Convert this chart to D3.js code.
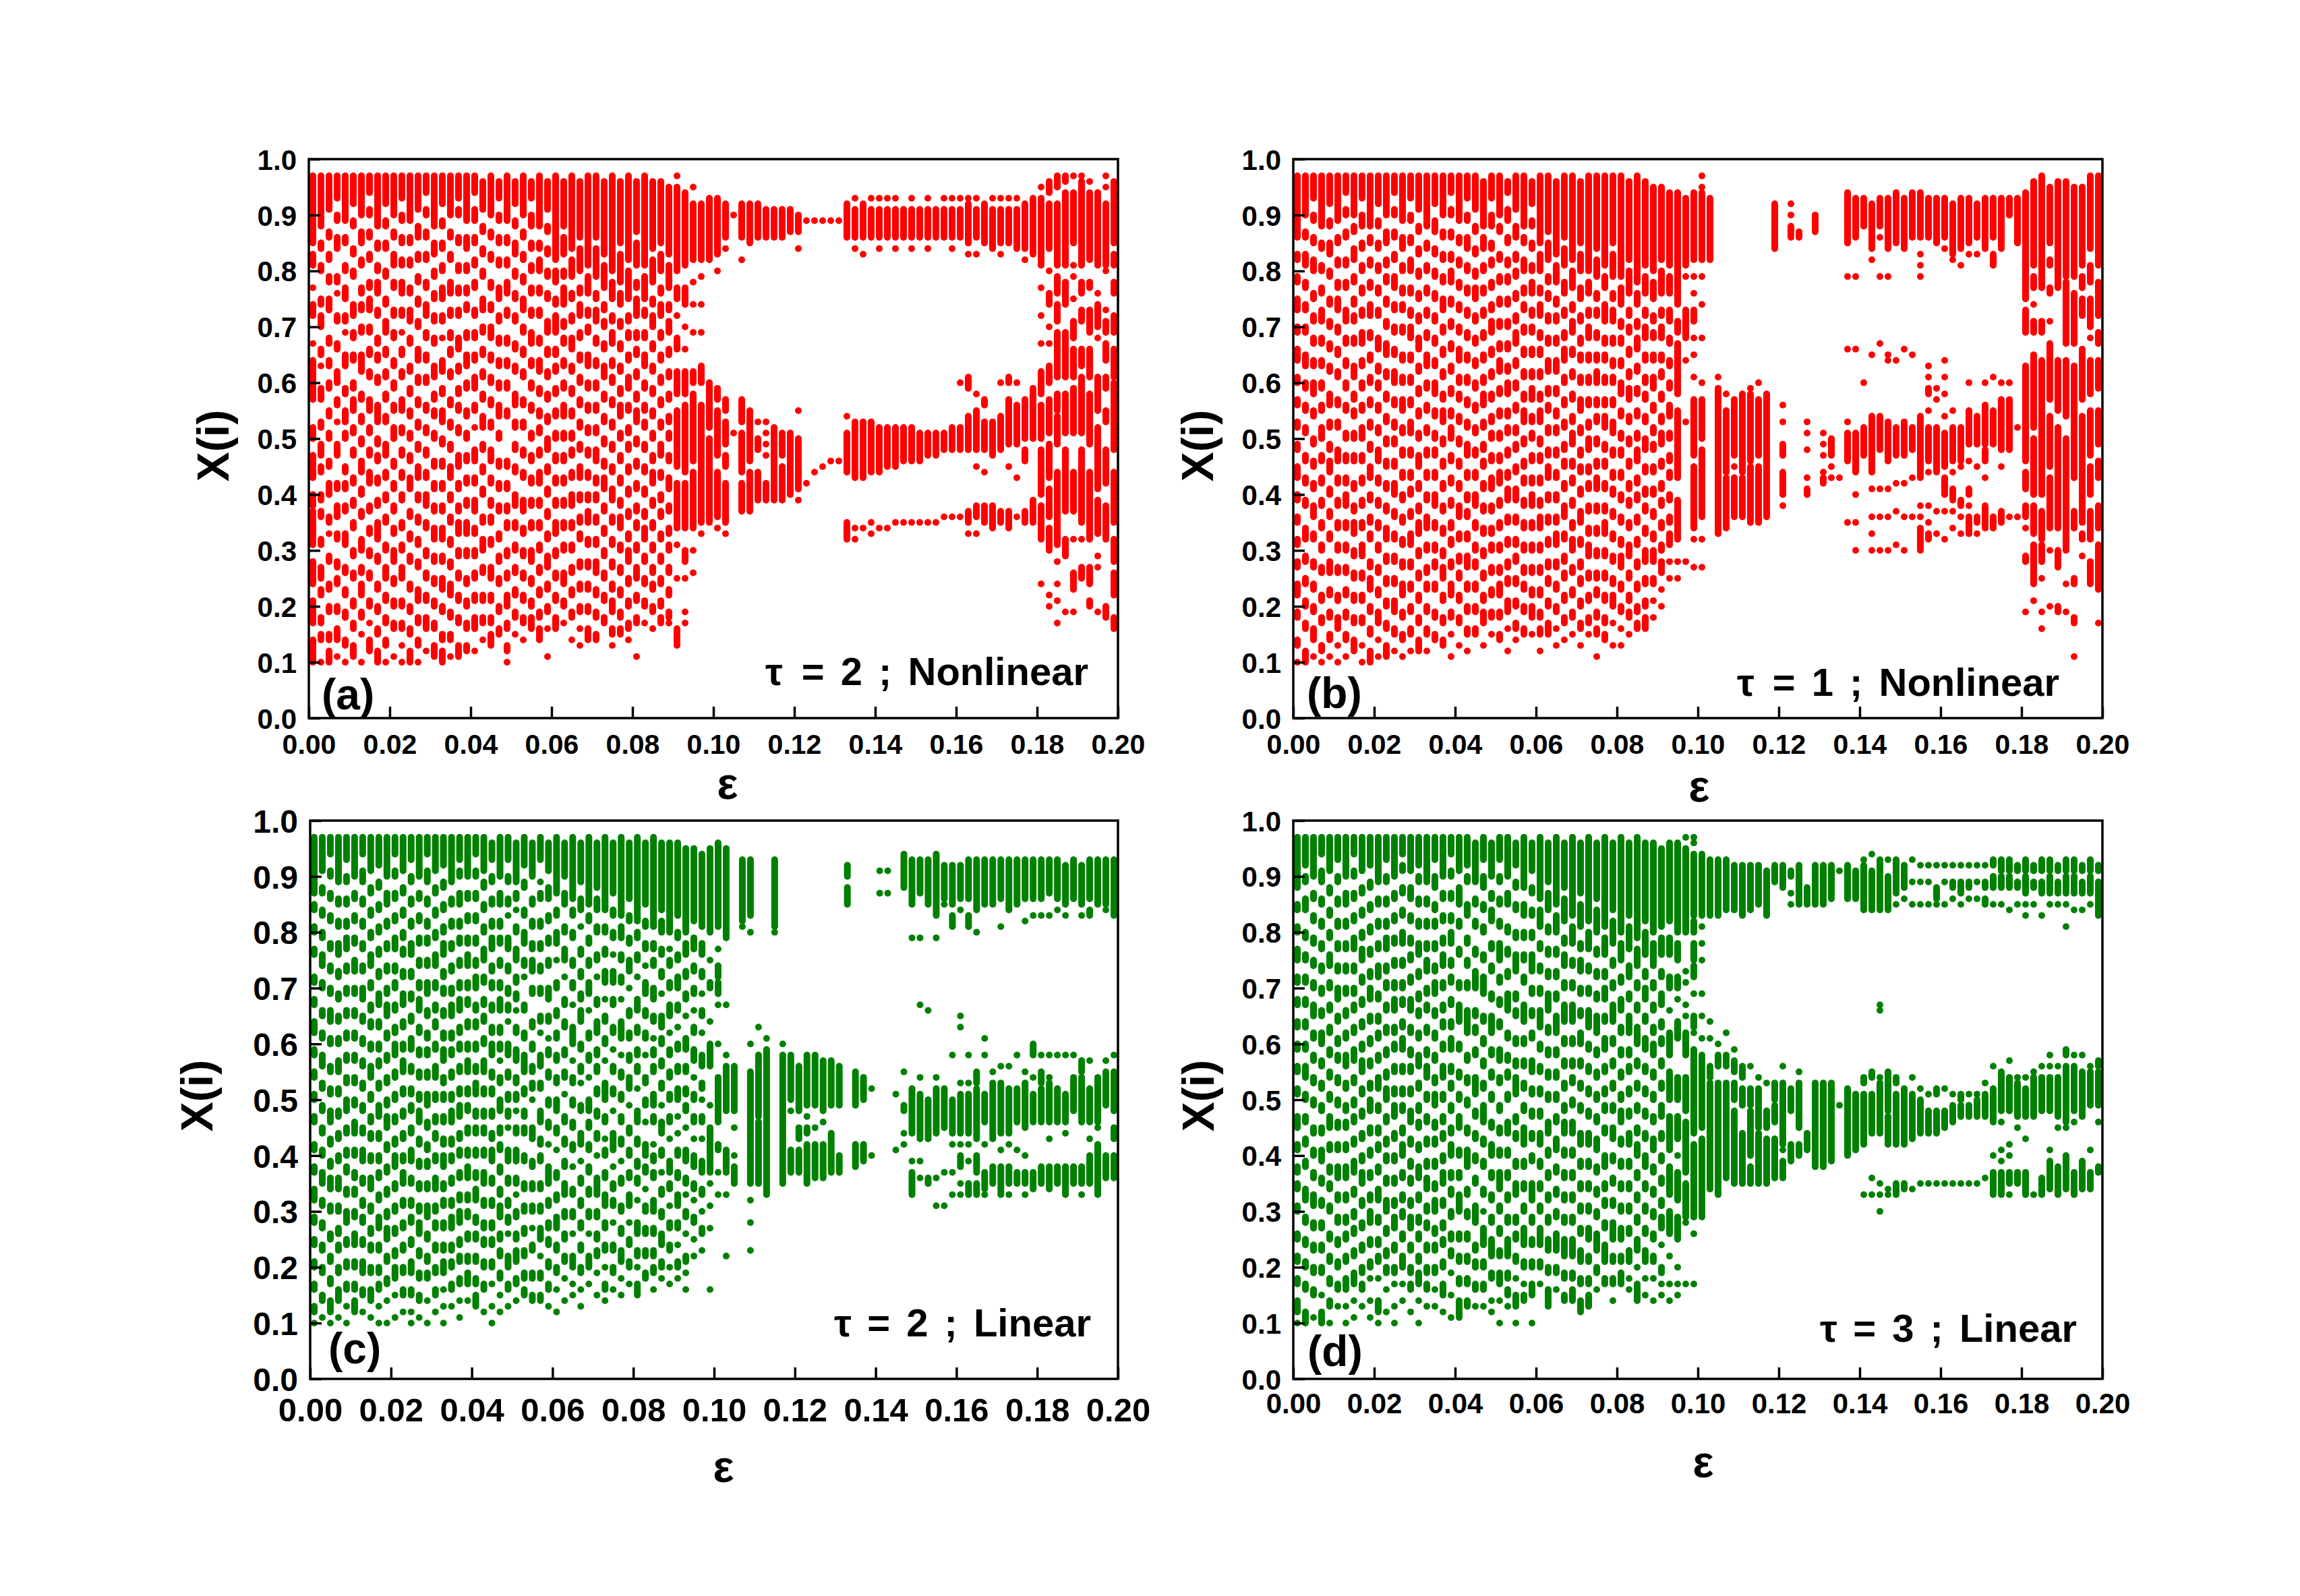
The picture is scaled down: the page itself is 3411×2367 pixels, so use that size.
<!DOCTYPE html>
<html><head><meta charset="utf-8">
<script src="https://cdn.jsdelivr.net/npm/d3@7"></script>
<style>html,body{margin:0;padding:0;background:#fff;}svg{display:block;}</style>
</head><body>
<svg id="chart" width="3411" height="2367"></svg>
<script>
// coupling strength grid (one column of iterates per value)
const eps = [0.001,0.003,0.005,0.007,0.009,0.011,0.013,0.015,0.017,0.019,0.021,0.023,0.025,0.027,0.029,0.031,0.033,0.035,0.037,0.039,
0.041,0.043,0.045,0.047,0.049,0.051,0.053,0.055,0.057,0.059,0.061,0.063,0.065,0.067,0.069,0.071,0.073,0.075,0.077,0.079,
0.081,0.083,0.085,0.087,0.089,0.091,0.093,0.095,0.097,0.099,0.101,0.103,0.105,0.107,0.109,0.111,0.113,0.115,0.117,0.119,
0.121,0.123,0.125,0.127,0.129,0.131,0.133,0.135,0.137,0.139,0.141,0.143,0.145,0.147,0.149,0.151,0.153,0.155,0.157,0.159,
0.161,0.163,0.165,0.167,0.169,0.171,0.173,0.175,0.177,0.179,0.181,0.183,0.185,0.187,0.189,0.191,0.193,0.195,0.197,0.199];
const xTickValues = [0,0.02,0.04,0.06,0.08,0.10,0.12,0.14,0.16,0.18,0.20];
const yTickValues = [0,0.1,0.2,0.3,0.4,0.5,0.6,0.7,0.8,0.9,1.0];
const panelTags = ["(a)","(b)","(c)","(d)"];
const tauParts = [["τ"," = 2 ; Nonlinear"],["τ"," = 1 ; Nonlinear"],["τ"," = 2 ; Linear"],["τ"," = 3 ; Linear"]];
const xTitle = "ε", yTitle = "X(i)";
// X(i) values x100 per column: a number is one point, [hi,lo] is a contiguous stack of points
const colsA = [
[[97,85],[83,81],77,[74,72],67,[64,57],[52,50],[47,43],[40,38],[37,31],[28,24],[21,17],[14,10]],
[[97,88],[85,84],[81,80],[75,74],[72,70],[66,65],63,[59,57],[53,52],[49,47],[45,44],[40,39],[37,36],[32,31],[27,25],[23,22],[18,17],[15,14],10],
[[97,91],[87,86],[83,82],[79,78],[75,73],[68,67],[64,63],[60,59],[55,54],[51,50],[46,45],[42,40],[36,35],33,[29,28],[24,23],[20,19],[15,14],[12,10]],
[[97,93],[90,89],[86,84],[79,78],76,[72,71],[67,66],[62,60],[57,56],53,[49,47],[42,41],[38,36],[33,32],[28,27],[25,24],[20,19],[16,14],11],
[[97,89],[86,85],[81,80],[77,75],[72,71],69,[65,63],[59,58],[55,53],[51,50],[45,44],[42,41],[38,37],[33,31],[27,26],[23,22],[19,18],[14,13],10],
[[97,92],[89,88],[84,83],[80,79],[74,72],[69,68],[65,64],[60,59],[57,55],[52,51],[48,47],[43,42],[39,38],[35,34],[30,29],[26,25],[21,20],[17,16],[13,11]],
[[97,90],[87,85],[82,81],[77,76],[74,73],[70,69],[65,62],[58,57],[54,53],[50,49],[46,44],[41,40],[37,36],[32,30],[27,26],[24,22],[19,18],15,10],
[[97,94],[91,90],[87,86],[83,82],[78,77],[75,73],[70,69],[66,65],[62,61],[57,55],[52,51],[48,47],[44,42],[38,37],[34,33],[30,29],[26,25],[21,20],17,[14,12]],
[[97,88],[85,84],[81,80],[78,76],[73,72],[68,67],[65,64],[61,60],[56,53],[50,49],[47,46],[43,42],[39,38],[35,32],[29,28],[24,23],[20,19],[16,15],[12,10]],
[[97,92],[89,88],[85,84],[80,79],[75,74],[71,69],[66,65],[62,61],[58,57],[54,53],[49,47],[44,43],[40,39],[36,35],[31,30],[27,25],[22,21],[18,17],[14,13],10],
[[97,90],[87,86],[83,81],[78,77],[73,72],[69,68],[64,63],[60,59],[56,55],[52,50],[46,45],[42,41],[38,37],[34,33],[30,28],[25,24],[21,20],[17,16],11],
[[97,93],[90,89],[86,85],[82,81],[78,76],[73,72],69,[66,65],[62,61],[57,55],[52,51],[48,47],[44,43],[40,39],[35,34],[31,30],[27,25],[21,20],[17,16],13,10],
[[97,89],[86,85],[82,81],[77,76],[73,71],[68,67],[63,62],[59,58],[55,54],[51,50],[47,46],[43,41],[37,36],[33,32],[29,28],[24,23],[20,19],[16,15],[12,10]],
[[97,91],[88,86],[83,82],[79,78],[75,74],[71,70],[66,64],[61,60],[57,56],[53,52],[49,48],[45,43],[40,39],[36,35],[32,31],[28,27],[23,21],[18,17],[14,13],10],
[[97,94],[91,90],[87,86],[83,82],[78,77],[74,72],[69,68],[65,64],[61,60],[56,55],[52,51],[48,47],[44,43],[40,38],[35,34],[30,29],[26,25],[22,21],[18,16],12],
[[97,88],[85,83],[80,79],[76,75],[72,71],[68,67],[63,61],[58,57],[55,54],[51,50],[46,45],[42,41],[38,37],[34,32],[29,28],[25,24],[21,20],[17,16],[13,11]],
[[97,92],[89,88],[85,84],[81,80],[77,75],[72,71],68,[64,62],[59,58],[55,53],[50,49],[46,45],[42,41],[38,37],[34,32],[29,28],[25,23],[20,19],[15,14],[12,10]],
[[97,90],[87,86],[83,82],[78,76],[73,72],[69,68],[66,65],[62,61],[57,56],[53,52],[49,48],[45,43],[40,39],[36,35],[32,31],[28,27],[24,22],[19,18],[15,14],11],
[[97,93],[91,90],[86,85],[81,80],[77,76],[73,72],[68,66],[63,62],[59,58],[56,55],[52,51],[47,45],[42,41],[38,37],[35,33],[30,29],[26,25],[22,21],[18,17],[13,11]],
[[97,89],[86,84],[81,80],[77,76],[74,73],[69,68],[65,63],[60,59],[55,54],[51,50],[47,46],[43,42],[39,38],[35,33],[30,29],[25,24],[21,20],[17,16],[13,12]],
[[97,94],[91,89],[86,85],[82,81],[78,77],[73,72],[69,68],[65,64],[61,59],[56,55],52,[48,46],[43,42],[39,37],[34,33],[30,29],[26,25],[22,21],[18,16],12],
[[96,91],[88,87],[84,83],[80,79],[75,73],[70,69],[66,65],[62,61],[58,57],[54,52],[49,48],[45,44],[41,40],[36,35],[32,30],[27,26],[22,21],[18,17],14],
[[97,90],[87,86],[83,82],[78,77],[74,73],[70,68],[65,64],[61,60],[57,56],[53,52],[48,46],[43,42],[39,38],[36,35],[32,31],[27,25],[22,21],[18,17],[15,13]],
[[96,93],[90,89],[86,85],[82,81],[77,75],[72,71],[68,67],[64,63],[60,59],[56,54],[51,50],[46,45],[42,41],[38,37],[33,32],[29,28],[25,24],[20,19],[16,15]],
[[97,89],[86,85],[82,81],[78,76],[73,72],[68,67],[64,63],[60,59],[55,54],[46,45],[42,41],[38,37],[35,34],[30,29],[26,25],[22,20],[17,16],[13,12],10],
[[96,92],[89,88],[85,83],[80,79],[76,75],[72,71],[67,66],[63,62],[58,56],[53,52],[49,48],[45,44],[40,38],[35,34],[31,30],[27,26],[23,22],[19,18],15],
[[97,90],[87,86],[83,82],[79,78],[75,73],[70,69],[66,65],[62,61],[57,56],[53,52],[48,47],[44,43],[39,37],[34,33],[30,29],[26,25],[22,21],[18,17],14],
[[96,93],[90,88],[85,84],[81,80],[77,76],[73,72],[69,67],[64,63],[60,59],[56,55],[51,50],[47,46],[43,42],[39,38],[35,34],[30,28],[25,24],[21,20],[18,16]],
[[97,88],[85,84],[82,80],[77,76],[73,72],[68,67],[64,62],[59,58],[55,54],[52,51],[48,47],[44,42],[39,38],[35,34],[31,30],[27,26],[23,22],[19,18],[16,14]],
[[96,91],[88,87],[84,83],[80,79],[76,75],[71,69],[66,65],[62,61],[58,57],[54,53],[50,48],[45,44],[41,40],[37,36],[33,32],[29,27],[24,23],[20,19],16,11],
[[97,82],[80,78],[75,74],[72,69],[66,65],[63,62],[59,58],[55,54],[51,50],[47,46],[43,42],[39,38],[35,33],[30,29],[26,25],[22,21],[18,16]],
[[96,88],[86,83],[80,79],[77,74],[71,70],[68,67],[64,63],[60,59],[56,54],[51,50],[47,46],[43,42],[39,38],[35,34],[31,30],[26,24],[21,20],17],
[[97,84],[82,79],[76,75],[72,71],[68,66],[63,62],[59,58],[55,54],[51,50],[48,47],[44,43],[40,38],[35,34],[31,30],[27,26],[23,22],[19,18],14],
[[96,86],[84,80],[77,76],[74,72],[69,68],[65,64],[61,60],[57,56],[53,52],[49,48],[45,43],[40,39],[36,35],[33,32],[28,27],[24,23],[20,19],16,13],
[[97,81],[79,76],[73,72],[70,69],[65,63],[60,59],[56,55],[52,51],[48,47],[44,43],[40,39],[37,35],[32,31],[28,27],[24,23],[20,19],[16,14]],
[[97,86],[84,79],[76,75],[73,71],[68,67],[64,63],[60,59],[56,55],[52,51],[48,46],[43,42],[40,39],[36,35],[32,31],[28,26],[23,22],[19,18],[15,14]],
[[96,83],[81,77],[74,73],[71,70],[67,66],[63,61],[58,57],[54,53],[50,49],[46,45],[43,41],[38,37],[34,33],[30,29],[26,25],[22,21],[18,17]],
[[97,80],[78,75],[72,71],[69,67],[64,63],[61,60],[57,56],[53,52],[49,48],[45,44],[41,39],[36,35],[32,31],[28,27],[24,23],[21,19],[16,15],13],
[[96,85],[83,78],[76,74],[71,70],[67,66],[63,62],[59,58],[56,54],[51,50],[47,46],[43,42],[39,38],[36,34],[31,30],[27,26],[23,22],[19,18],[16,15]],
[[97,82],[80,75],[72,71],[69,68],[65,64],[61,59],[56,55],[52,51],[49,48],[45,44],[41,40],[37,36],[33,32],[30,28],[25,24],[21,20],[17,16],14],
[[96,87],[85,81],[78,77],[75,72],[69,68],[66,65],[62,61],[58,57],[55,53],[50,49],[46,45],[42,41],[38,37],[35,34],[31,30],[27,25],[22,21],[18,17],11],
[[97,81],[79,75],[73,72],[69,68],[65,63],[60,59],[56,55],[53,52],[49,48],[45,44],[41,40],[37,36],[34,32],[29,28],[25,24],[21,20],17],
[[96,84],[82,78],[75,74],[72,70],[67,66],[63,62],[59,58],[55,54],[51,50],[47,46],[44,42],[39,38],[35,34],[31,30],[27,26],[24,23],[20,19],16],
[[96,85],[83,80],[77,76],[74,72],[69,68],[65,64],[61,60],[57,56],[53,52],[49,47],[44,43],[40,39],[37,36],[33,32],[29,28],[25,24],[21,20],[18,17]],
[[95,83],[81,77],[74,73],[71,69],[66,65],[62,61],[58,57],[54,53],[51,50],[47,46],[43,41],[38,37],[34,33],[31,30],[27,26],[23,22],[19,18],17],
[97,[95,80],[77,75],72,[68,66],[62,58],[55,45],[42,34],31,25,[16,13]],
[[94,81],[77,74],70,66,[62,58],[56,44],[42,34],[30,28],25,19,17],
[95,[92,82],78,74,69,[62,60],[58,46],[44,34],30,26],
[[92,82],79,74,69,[63,60],[56,35],33],
[[93,82],[60,52],[50,35]],
[[93,83],80,[59,57],[55,47],[44,36],34],
[[92,86],84,[57,55],[53,49],[47,45],[42,35],33],
[90,51],
[[92,86],82,[57,53],[51,44],[42,37]],
[[92,85],[55,46],[44,37]],
[[92,86],53,[50,48],[44,39]],
[[91,86],53,51,49,47,[42,39]],
[[91,86],[52,39]],
[[91,86],[51,47],[45,39]],
[[91,87],[51,40]],
[[90,87],84,55,[50,41],39],
[89,42],
[89,44],
[89,45],
[89,46],
[89,46],
[[92,86],54,[51,44],[35,32]],
[93,[91,86],84,[53,43],34,32],
[[92,86],83,[53,43],34],
[93,[91,86],[53,44],35,33],
[93,[91,86],84,[52,44],34],
[93,[91,86],[52,45],34],
[93,[91,86],84,[52,45],35],
[[91,86],[52,46],35],
[93,[91,86],84,[52,46],35],
[[91,86],[51,46],35],
[93,[91,86],84,[51,47],35],
[[91,86],[51,47],35],
[93,[91,86],[51,48],36],
[93,[91,86],84,[52,48],36],
[93,[91,86],60,[52,48],36],
[93,[92,85],83,[61,59],[54,48],[37,35],33],
[93,[91,86],83,58,[55,48],45,[38,36],33],
[[92,85],[57,56],[53,48],44,[38,35]],
[93,[91,84],[53,47],[38,34]],
[93,[91,85],83,60,[54,48],[37,35]],
[93,[91,85],[61,60],[57,49],45,[37,34]],
[93,[91,84],60,[56,49],43,36],
[[92,84],82,[57,50],[48,46],[37,35]],
[[93,83],[59,50],[39,35]],
[95,[93,81],77,72,67,[62,58],[56,50],[48,40],[38,32],24],
[[96,94],[92,84],80,[76,74],70,67,[63,60],[57,51],[49,43],[41,36],[34,30],22,20],
[[97,95],[92,81],[79,76],[74,71],[69,61],[58,55],[54,49],[44,31],28,24,21,17],
[[97,96],[94,81],[78,74],[69,61],[58,51],[48,37],[32,29],19],
[97,[94,85],81,79,75,[71,68],[66,61],[59,51],[44,37],32,[26,23],19],
[97,[96,81],[78,76],[73,71],[66,63],[61,51],[48,35],32,[27,25]],
[96,[94,82],[78,77],[73,69],[66,61],[58,49],[44,32],[27,24],[21,20]],
[94,[94,81],76,[74,70],68,[61,55],[52,41],[39,33],29,27,19],
[97,95,[92,81],80,73,[71,69],[67,64],[61,59],[55,53],[48,42],[38,32],[20,18]],
[[96,85],[83,81],[78,76],[72,69],[66,61],[60,48],[44,35],[32,28],[26,22],[18,16]]
];
const colsB = [
[[97,86],[83,82],[79,78],[75,73],[70,69],[66,64],[61,60],[57,56],[53,52],[49,48],[45,43],[40,39],[36,35],[32,31],[28,27],[24,22],[19,18],[14,13],10],
[[97,90],[87,86],[83,81],[78,77],[74,73],[70,69],[65,63],[60,59],[56,55],[52,51],[47,46],[43,42],[39,38],[34,32],[29,28],[25,24],[21,20],[17,16],[12,10]],
[[97,93],[90,89],[86,85],[82,80],[76,75],[72,71],[68,67],[64,63],[60,58],[55,54],[50,49],[46,45],[42,41],[38,36],[33,32],[28,27],[24,23],[20,19],[16,14],11],
[[97,88],[85,84],[81,80],[77,76],[73,71],[68,67],[64,63],[60,59],[56,55],[52,50],[47,46],[43,42],[39,38],[35,34],[31,30],[27,26],[22,21],[18,17],[13,12],10],
[[97,92],[89,88],[85,83],[80,79],[75,74],[71,70],[67,66],[63,62],[58,56],[53,52],[49,48],[46,44],[41,40],[37,36],[33,32],[28,26],[23,22],[19,18],[15,14],11],
[[97,89],[86,85],[82,81],[78,77],[75,73],[70,69],[66,65],[62,61],[57,56],[53,52],[48,46],[43,42],[39,38],[35,34],[31,30],[27,26],[22,21],[18,16],13,10],
[[97,94],[91,90],[87,86],[82,81],[78,77],[73,71],[68,67],[64,63],[60,59],[56,55],[51,50],[47,46],[43,42],[40,38],[35,34],[31,30],[27,26],[23,22],[19,18],[15,14],11],
[[97,90],[88,87],[84,82],[79,78],[75,74],[72,71],[68,67],[63,61],[58,57],[55,54],[51,50],[47,46],[42,41],[38,37],[35,33],[30,29],[26,25],[22,21],[18,17],[14,12]],
[[97,93],[90,88],[85,84],[81,80],[77,76],[73,72],[69,67],[64,63],[60,59],[56,55],[52,50],[47,46],[43,42],[39,38],[35,34],[31,29],[26,25],[22,21],[18,17],13,10],
[[97,88],[86,85],[82,81],[78,77],[74,72],[69,68],[65,64],[61,60],[57,56],[53,52],[49,48],[45,43],[40,39],[36,35],[33,32],[28,27],[25,23],[20,19],[16,15],[12,10]],
[[97,92],[89,88],[85,84],[81,80],[77,76],[73,72],[68,66],[63,62],[60,59],[56,55],[52,51],[48,46],[43,42],[39,38],[35,34],[31,30],[27,26],[23,22],[19,17],14,11],
[[97,90],[87,85],[82,81],[79,78],[75,74],[71,70],[67,65],[62,61],[58,57],[54,53],[50,49],[46,45],[42,41],[38,37],[34,32],[29,28],[25,24],[21,20],[17,16],[13,11]],
[[97,94],[91,90],[87,86],[83,82],[79,77],[74,73],[70,69],[66,65],[62,60],[57,56],[53,52],[50,49],[46,45],[42,40],[37,36],[33,32],[29,28],[25,24],[21,19],[16,15],12],
[[97,89],[86,84],[81,80],[77,76],[74,73],[70,69],[65,64],[61,60],[57,55],[52,51],[48,47],[44,43],[40,39],[36,35],[32,31],[28,27],[24,22],[19,18],[15,14],11],
[[97,93],[90,89],[86,85],[82,80],[77,76],[73,72],[70,68],[65,64],[61,60],[57,56],[53,51],[48,47],[44,43],[41,40],[37,36],[33,31],[28,27],[24,23],[20,19],[16,15],12],
[[97,91],[88,87],[84,83],[80,79],[76,75],[72,71],[68,66],[63,62],[59,58],[55,54],[51,50],[47,45],[42,41],[38,37],[35,33],[30,29],[26,25],[22,21],[18,17],[14,12]],
[[97,88],[85,84],[81,80],[77,76],[73,72],[69,68],[65,63],[60,59],[56,55],[52,51],[48,47],[44,43],[40,39],[36,34],[31,30],[27,26],[24,23],[20,19],[16,15],12],
[[97,92],[89,87],[84,83],[80,79],[76,75],[72,71],[68,67],[64,63],[60,58],[55,54],[51,50],[48,47],[44,43],[40,38],[35,34],[31,30],[28,27],[24,23],[19,18],[15,14]],
[[97,90],[87,86],[83,82],[79,78],[75,73],[70,69],[66,65],[62,61],[58,57],[55,53],[50,49],[46,45],[42,41],[38,37],[34,33],[30,29],[27,25],[22,21],[18,17],[14,13]],
[[97,94],[91,90],[87,86],[83,82],[80,78],[75,74],[71,70],[67,66],[63,62],[59,58],[55,54],[52,50],[47,46],[43,42],[39,38],[35,34],[32,31],[28,27],[24,22],[19,18],15,11],
[[97,89],[86,85],[82,81],[78,77],[74,73],[70,69],[66,64],[61,60],[58,57],[54,53],[50,49],[46,45],[42,41],[38,36],[33,32],[29,28],[26,25],[22,21],[18,17],13],
[[97,93],[90,89],[86,84],[81,80],[77,76],[73,72],[69,68],[65,64],[61,60],[57,56],[53,52],[49,47],[44,43],[40,39],[37,36],[33,32],[29,27],[24,23],[20,19],[16,15],12],
[[97,91],[88,87],[84,83],[80,79],[77,75],[72,71],[68,67],[64,63],[60,59],[56,55],[52,51],[48,47],[44,43],[40,38],[35,34],[31,30],[28,27],[24,23],[20,19],[16,15]],
[[96,88],[86,84],[81,80],[77,76],[73,72],[69,68],[65,64],[61,60],[58,56],[53,52],[49,48],[46,45],[42,41],[38,37],[34,33],[30,29],[26,25],[22,21],[19,17],13],
[[97,93],[90,88],[85,84],[82,81],[78,77],[74,73],[71,69],[66,65],[62,61],[58,57],[54,53],[51,50],[47,46],[43,41],[38,37],[34,33],[31,30],[27,26],[23,22],[19,18],15],
[[97,90],[88,87],[83,82],[79,78],[75,74],[71,70],[67,66],[64,62],[59,58],[55,54],[51,50],[47,46],[44,42],[39,38],[35,34],[31,30],[27,26],[24,22],[19,18],[15,14]],
[[96,94],[91,89],[86,85],[82,81],[79,78],[75,74],[71,70],[67,66],[63,62],[60,58],[55,54],[52,51],[48,47],[44,43],[41,39],[36,35],[32,31],[28,27],[25,24],[21,19],16,12],
[[97,91],[88,86],[83,82],[80,79],[76,75],[72,71],[69,67],[64,63],[60,59],[56,55],[52,51],[49,48],[45,44],[41,39],[36,35],[32,31],[29,28],[25,24],[21,20],[17,16],14],
[[97,88],[86,85],[82,80],[77,76],[74,73],[70,69],[66,65],[62,61],[58,57],[55,53],[50,49],[46,45],[43,42],[39,38],[35,34],[31,30],[27,26],[24,23],[20,19],[16,15]],
[[96,92],[89,88],[85,84],[81,80],[78,76],[73,72],[70,69],[66,65],[62,61],[59,57],[54,53],[51,50],[47,46],[43,42],[40,38],[35,34],[31,30],[27,26],[23,22],[20,18],15],
[[97,85],[83,80],[77,76],[74,72],[69,68],[66,65],[62,61],[58,57],[55,53],[50,49],[47,46],[43,42],[39,38],[36,34],[31,30],[27,26],[23,22],[19,18],[16,15],12],
[[97,87],[85,82],[79,78],[76,75],[72,71],[68,67],[64,62],[59,58],[56,55],[52,51],[48,47],[45,43],[40,39],[36,35],[32,31],[28,27],[25,24],[21,20],[17,15]],
[[96,83],[81,78],[75,74],[72,71],[68,67],[64,62],[59,58],[55,54],[52,51],[48,47],[44,43],[40,39],[36,35],[33,31],[28,27],[24,23],[20,19],16,13],
[[97,86],[84,81],[78,76],[73,72],[69,68],[66,64],[61,60],[57,56],[53,52],[49,48],[46,45],[42,41],[38,36],[33,32],[29,28],[26,25],[22,21],[18,17],14],
[[97,82],[80,77],[74,73],[71,69],[66,65],[62,61],[58,57],[54,53],[51,49],[46,45],[43,42],[39,38],[35,34],[32,30],[27,26],[23,22],[19,18],15],
[[96,85],[83,80],[77,75],[72,71],[68,67],[65,64],[61,60],[57,55],[52,51],[48,47],[45,44],[41,40],[37,35],[32,31],[28,27],[25,24],[21,20],[17,16],13],
[[97,80],[78,76],[73,72],[70,68],[65,64],[61,60],[57,56],[53,52],[50,48],[45,44],[42,41],[38,37],[34,33],[31,29],[26,25],[22,21],[18,17],15],
[[97,84],[82,79],[76,75],[73,72],[69,68],[65,64],[62,60],[57,56],[54,53],[50,49],[46,45],[43,41],[38,37],[34,33],[30,29],[26,25],[23,22],[19,18],[16,15],11],
[[97,81],[79,77],[74,71],[68,67],[65,64],[61,60],[57,56],[54,52],[49,48],[46,45],[42,41],[38,37],[35,33],[30,29],[26,25],[22,21],[18,17],[15,14]],
[[97,85],[83,79],[76,75],[73,71],[68,67],[64,63],[61,60],[57,56],[53,51],[48,47],[44,43],[41,40],[37,36],[33,32],[29,28],[25,24],[22,20],17,13],
[[97,79],[77,74],[71,70],[68,67],[64,63],[60,58],[55,54],[51,50],[48,47],[44,43],[40,39],[36,35],[32,31],[29,27],[24,23],[20,19],16,13],
[[96,82],[80,76],[73,72],[70,69],[66,65],[62,61],[59,57],[54,53],[50,49],[46,45],[42,41],[39,38],[35,34],[31,29],[26,25],[22,21],[19,18],15],
[[97,78],[76,74],[71,70],[68,66],[63,62],[59,58],[55,54],[51,50],[48,46],[43,42],[40,39],[36,35],[32,31],[28,27],[24,23],[20,19],[17,16]],
[[96,81],[79,76],[73,72],[70,68],[65,64],[61,60],[58,57],[54,53],[50,48],[45,44],[41,40],[38,37],[34,33],[30,28],[25,24],[21,20],[18,16]],
[[95,80],[78,75],[72,71],[69,68],[65,64],[61,59],[56,55],[52,51],[49,48],[45,44],[41,40],[37,36],[33,32],[30,28],[25,24],21,18],
[[95,82],[80,76],[73,72],[70,68],[65,64],[62,61],[58,57],[54,53],[51,49],[46,45],[42,41],[39,38],[35,34],[31,30],[28,26],23,20],
[[94,81],[79,76],[73,71],[68,67],[64,63],[60,59],[56,54],[51,50],[47,46],[44,43],[40,39],[36,35],[33,31],28,25],
[[94,74],[71,69],[67,58],[55,43],[39,32],28,25],
[[93,81],79,[73,68],64,53,28],
[[94,82],79,76,[73,71],68,65,61,[57,47],[45,34],32,27],
[97,95,[94,82],79,74,68,60,[57,50],[48,36],32,27],
[[93,82]],
[61,[59,33]],
[58,[55,44],[43,34]],
[[57,47],45,[43,36]],
[[58,44],[43,36]],
[59,[58,46],[45,35]],
[60,[57,47],[45,35]],
[[58,36]],
[[92,84]],
[56,53,[49,47],[44,40],38],
[92,90,[88,86]],
[[87,86]],
[53,51,48,43,[41,40]],
[[90,87]],
[51,49,47,44,[43,42]],
[[50,47],45,43],
[43],
[[94,85],79,66,53,[51,46],35],
[[93,86],79,66,[51,44],40,35,30],
[[93,88],60,[52,47]],
[[92,84],82,65,[54,44],41,36,33,30],
[[93,88],86,79,67,[54,48],41,36,30],
[[93,84],79,65,64,[53,46],41,36,30],
[[94,85],64,[52,47],42,37,31],
[[93,84],66,[53,47],42,36,30],
[[94,86],65,[52,48],43,36],
[[94,86],83,81,79,[54,43],38,36,[34,30]],
[[93,86],63,61,[59,58],55,[52,46],44,38,35,[33,32]],
[[93,85],59,57,[52,44],37,33],
[[93,86],84,64,61,58,54,[51,45],[43,40],37,32],
[[92,83],82,55,[52,46],44,[41,39],37,34],
[[93,84],81,[52,46],45,[39,38],36,33],
[[93,85],83,60,[55,49],46,[41,40],38,[36,33]],
[[92,86],83,[54,49],45,[36,35],33],
[[93,84],60,[56,49],[48,46],43,[38,34]],
[[93,86],[83,81],61,[55,49],[36,34]],
[[93,84],60,[57,48],45,[37,35]],
[[93,90],60,[57,48],36],
[[93,85],52,36],
[[94,75],[73,69],[63,46],[44,41],[38,36],34,[29,28],19],
[[96,81],[79,77],74,[71,69],[65,52],[50,40],[38,33],[31,24],21],
[[97,77],[71,69],[64,40],[37,32],[31,28],25,19,16],
[[95,85],[82,81],[77,76],71,[67,57],[54,45],[43,34],30,20],
[[96,77],[64,55],[52,34],[30,27],[20,19]],
[[96,79],[78,67],[64,54],[50,30],24,19],
[[95,79],[76,67],[63,43],[37,34],[25,24],[18,17],11],
[[95,81],[79,77],[75,72],[66,57],[54,35],[33,32],29],
[[97,84],[81,78],[75,70],68,[64,58],[55,47],[45,40],[37,32],[28,24]],
[[97,81],[78,72],[69,67],[64,59],[55,49],[46,43],[38,34],[31,23],17]
];
const colsC = [
[[97,87],[85,84],[81,80],[77,76],[72,71],[68,67],[64,62],[59,58],[55,54],[51,50],[47,46],[42,41],[38,37],[34,32],[29,28],[25,24],[21,20],[17,16],[13,12],10],
[[97,91],[88,87],[84,83],[80,79],[76,74],[71,70],[66,65],[62,61],[58,56],[53,52],[49,48],[45,44],[41,40],[37,35],[32,31],[28,27],[24,23],[20,19],[15,14],11],
[[97,94],[91,90],[87,86],[83,82],[78,77],[74,73],[70,69],[66,64],[61,60],[56,55],[52,51],[48,46],[43,42],[39,38],[36,34],[31,30],[26,25],[22,21],[18,17],[14,12],10],
[[97,89],[86,85],[82,81],[78,76],[73,72],[69,68],[65,64],[61,60],[57,55],[52,51],[48,47],[44,43],[40,39],[36,34],[31,30],[27,26],[24,23],[20,19],[16,14],11],
[[97,93],[90,89],[86,85],[82,81],[79,77],[74,73],[70,69],[66,65],[62,61],[58,57],[54,53],[50,48],[45,44],[41,40],[38,37],[34,33],[30,28],[25,24],[21,20],[17,16],13,10],
[[97,90],[87,86],[83,82],[79,78],[75,73],[70,69],[66,65],[62,61],[58,57],[54,53],[50,49],[46,44],[41,40],[37,36],[34,33],[30,29],[26,24],[21,20],[17,16],[14,12]],
[[97,94],[91,89],[86,85],[82,81],[78,77],[74,73],[70,68],[65,64],[61,60],[57,56],[53,52],[49,48],[45,44],[41,39],[36,35],[32,31],[29,28],[25,24],[21,19],[16,15],12],
[[97,91],[88,87],[84,83],[80,79],[76,74],[71,70],[67,66],[64,63],[60,59],[56,54],[51,50],[47,46],[44,43],[40,39],[36,34],[31,30],[27,26],[24,23],[20,19],[16,14],11],
[[97,92],[89,88],[85,84],[81,80],[77,76],[73,72],[69,67],[64,63],[60,59],[57,56],[53,52],[49,47],[44,43],[40,39],[37,36],[33,32],[29,27],[24,23],[20,19],[17,16],13,10],
[[97,90],[87,85],[82,81],[78,77],[74,73],[70,69],[67,65],[62,61],[58,57],[54,53],[50,49],[47,45],[42,41],[38,37],[34,33],[30,29],[27,25],[22,21],[18,17],14,10],
[[97,94],[91,90],[87,86],[83,82],[79,77],[74,73],[71,70],[67,66],[63,62],[60,58],[55,54],[51,50],[47,46],[43,42],[40,38],[35,34],[31,30],[27,26],[23,22],[20,18],15,11],
[[97,91],[88,87],[84,83],[80,79],[77,76],[73,72],[69,67],[64,63],[60,59],[57,55],[52,51],[48,47],[44,43],[40,39],[37,35],[32,31],[28,27],[24,23],[20,19],[16,15],12],
[[97,93],[90,89],[86,85],[82,81],[78,76],[73,72],[69,68],[65,64],[61,59],[56,55],[52,51],[49,48],[45,44],[41,39],[36,35],[32,31],[29,28],[25,24],[21,19],[16,15],12,10],
[[97,90],[87,86],[83,82],[79,78],[75,74],[71,70],[68,66],[63,62],[59,58],[55,54],[51,50],[48,46],[43,42],[39,38],[35,34],[31,30],[28,26],[23,22],[19,18],[15,14],11],
[[97,94],[91,89],[86,85],[82,81],[79,78],[75,74],[71,69],[66,65],[62,61],[59,58],[55,54],[51,49],[46,45],[42,41],[39,38],[35,34],[31,29],[26,25],[22,21],[19,18],14,10],
[[97,91],[88,87],[84,83],[80,79],[76,74],[71,70],[67,66],[64,63],[60,59],[56,54],[51,50],[47,46],[44,43],[40,39],[36,34],[31,30],[28,27],[24,23],[20,19],[16,15],12],
[[97,92],[89,88],[85,84],[81,80],[78,76],[73,72],[70,69],[66,65],[62,61],[59,57],[54,53],[51,50],[47,46],[43,42],[40,38],[35,34],[32,31],[28,27],[24,23],[21,19],16,13,10],
[[97,89],[86,85],[82,81],[78,77],[74,73],[70,69],[67,65],[62,61],[59,58],[55,54],[51,50],[48,46],[43,42],[40,39],[36,35],[32,31],[29,27],[24,23],[21,20],[17,16],13],
[[97,93],[91,90],[87,85],[82,81],[79,78],[75,74],[71,70],[68,66],[63,62],[60,59],[56,55],[52,51],[49,47],[44,43],[41,40],[37,36],[33,32],[30,28],[25,24],[22,21],[18,17],14,11],
[[97,90],[87,86],[83,82],[79,78],[76,74],[71,70],[68,67],[64,63],[60,59],[57,55],[52,51],[49,48],[45,44],[41,40],[38,36],[33,32],[30,29],[26,25],[22,21],[19,17],14],
[[97,94],[91,90],[87,86],[83,82],[79,78],[75,74],[72,70],[67,66],[64,63],[60,59],[56,55],[53,51],[48,47],[45,44],[41,40],[37,36],[34,32],[29,28],[26,25],[22,21],[18,17],[15,13]],
[[97,91],[89,88],[85,84],[81,80],[77,75],[72,71],[68,67],[65,64],[61,60],[57,55],[52,51],[48,47],[45,44],[41,40],[37,35],[32,31],[28,27],[25,24],[21,20],[17,16],12],
[[96,93],[90,89],[86,85],[82,81],[79,77],[74,73],[71,70],[67,66],[63,62],[60,58],[55,54],[52,51],[48,47],[44,43],[41,39],[36,35],[32,31],[28,27],[25,24],[21,20],17,13,10],
[[97,90],[87,85],[82,81],[79,78],[75,74],[71,70],[68,66],[63,62],[60,59],57,[54,53],[50,48],[45,44],[42,41],[38,37],[34,33],[31,29],[26,25],[23,22],[19,18],15,12],
[[97,93],[90,89],[86,85],83,[79,77],[74,73],[70,69],[67,66],64,[60,58],[55,54],[51,50],[48,47],45,[41,39],[36,35],[32,31],[29,28],26,[22,20],[17,16],13],
[[96,89],[87,86],84,[81,80],[77,75],[72,71],[69,68],66,[63,62],[59,57],[54,53],[51,50],48,[45,44],[41,39],[36,35],33,[30,29],[26,25],[23,21],[18,17],14],
[[97,92],[89,88],[84,83],[80,78],[75,74],72,[67,66],[62,61],[58,55],[52,51],[48,47],[45,44],[40,39],[35,34],[31,30],[27,26],[23,22],[19,18],[16,15]],
[[96,90],[86,85],[82,81],[78,77],[75,73],[70,69],[64,63],[60,59],[56,55],[53,52],50,[45,43],[39,38],[35,34],[31,30],27,[24,23],[19,18],[15,14]],
[[97,93],89,[87,86],[82,81],[78,77],[74,73],[70,69],[65,64],62,[58,56],[53,52],[48,46],[43,42],[40,39],[35,34],[31,30],[27,25],22,[19,18],[15,14]],
[[96,91],[88,86],[83,82],[79,78],[75,74],[70,68],[65,64],61,[59,58],[55,54],[50,49],[46,45],42,[38,35],[32,31],[28,27],[25,24],[21,20],[17,16],13],
[[97,87],[84,83],[80,78],75,[71,70],[66,65],[62,61],[58,57],[54,53],[50,48],[45,44],41,[37,36],[33,32],[29,27],[24,23],[20,19],16,12],
[[96,90],[87,85],[81,80],[77,75],72,[68,67],[64,63],[59,58],[55,54],51,[47,46],[43,42],[39,38],[35,33],[30,29],[26,25],[22,21],18,14],
[[97,86],[84,83],[80,79],[75,74],[71,70],67,[63,60],57,[54,53],[50,49],[46,45],[42,41],38,[34,33],[30,29],26,[22,20],17,15],
[[96,89],[86,84],81,[77,76],[73,72],[69,68],[66,64],[60,59],[56,55],53,[49,48],[44,42],39,[36,35],[32,31],[28,27],[24,23],[20,19],16,13],
[[97,85],[83,82],[79,78],[75,74],[71,69],66,[62,61],[58,57],54,[50,48],[46,45],[42,41],[38,37],[34,33],[30,29],26,[22,20],17],
[[96,88],[86,84],[81,80],[76,75],72,[68,67],[64,62],[59,58],[56,55],[52,51],[48,47],[44,43],40,[36,33],[30,29],[26,25],[23,22],19,15],
[[97,84],[81,80],[77,76],[73,71],68,[65,64],[61,60],57,[53,50],[47,46],43,[41,40],[37,36],[33,31],[28,27],[24,23],20,[17,16],14],
[[96,87],[84,83],[80,79],76,[73,71],[68,67],[63,62],59,[56,55],[52,51],48,[44,41],38,[35,34],[32,31],28,[24,23],[20,19],16],
[[97,83],[81,79],[76,75],[72,71],68,[64,61],58,[55,54],[51,50],[47,46],[43,42],39,[36,35],[31,30],[27,26],[23,21],18,15],
[[96,86],[83,82],[79,78],[75,73],70,[66,65],[62,61],[58,57],[54,52],49,[45,44],[41,40],[37,36],[33,31],28,[25,24],[21,20],17],
[[97,82],[80,79],[76,75],72,[68,66],[63,62],[59,58],[56,55],52,[48,46],[43,42],[39,38],[36,35],32,[28,26],[23,22],20,[17,15]],
[[96,85],[82,81],[78,77],74,[71,69],[66,65],[62,61],58,[54,53],[50,49],46,[42,40],[38,37],34,[31,30],[27,26],[23,22],[19,18]],
[[97,81],[78,77],[75,74],[70,68],[65,64],61,[59,58],[56,55],[51,49],[47,46],42,[40,39],[37,36],[32,30],[27,26],[23,22],[20,19],16],
[[96,84],[82,80],[77,76],[73,72],69,[65,63],[61,60],[57,56],[53,52],49,[46,44],[41,40],37,[34,33],[30,29],[26,24],[21,20],18],
[[96,80],77,[75,74],[71,70],[67,65],62,[59,58],[55,54],[51,50],[47,46],43,[39,37],[35,34],31,[28,27],[24,23],20,17],
[[96,83],[80,79],[76,75],[72,70],[67,66],63,[60,59],[56,55],[52,50],47,44,[41,40],[37,36],[33,31],[28,27],24,[21,20],18],
[[95,80],[78,76],[73,72],[69,68],65,[61,59],[56,55],[52,51],[49,48],45,[41,39],[36,35],33,[30,29],26,[22,21],19,16],
[[95,82],[79,77],[74,73],[70,69],66,[63,62],[59,57],54,[51,50],[47,46],43,[40,38],[35,34],32,[29,28],25,22],
[[94,81],[78,76],[73,72],69,[66,65],62,[58,56],[53,52],50,[47,46],43,[39,37],[34,33],30,[27,26],23],
[[95,80],75,[71,70],64,[60,56],49,[45,37],35,31,27,16],
[[96,81],77,[74,72],[71,69],67,60,[54,46],[42,41],37,33],
[[95,79],67,58,[56,48],[41,37],33,22],
[[56,48],45,40,[38,35]],
[[93,82],81],
[[93,83],80,60,[55,35],32,28,23],
[63,[58,47],[46,35]],
[61,[59,33]],
[[93,81],80],
[60,[58,35]],
[[58,50],48,[41,37]],
[[56,48],[45,43],[41,37]],
[[58,49],47,[45,44],[42,35]],
[[58,49],45,[42,36]],
[[57,48],46,[42,36]],
[[57,49],[44,37]],
[[56,49],[40,37]],
[[92,90],[88,85]],
[[55,49],[42,38]],
[[54,50],[42,39]],
[52,40],
[91,87],
[91,87],
[51,41],
[[94,88],55,[49,48],44,42],
[[93,85],79,[52,44],39,[37,33]],
[[93,87],79,67,54,[51,43],39,36],
[[93,85],66,[50,43],[36,35]],
[[94,83],79,54,[52,44],36,31],
[[92,86],85,[52,45],37,31],
[[92,85],[83,81],58,[50,44],42,37,33],
[[92,86],84,65,63,53,[51,44],42,[40,38],35,33],
[[93,86],[83,81],58,53,[51,44],42,39,[35,33]],
[[93,84],80,[55,53],[52,43],[40,37],[35,33]],
[[93,85],61,58,[51,46],42,[37,34],33],
[[93,85],55,[53,43],[38,35]],
[[93,86],81,56,[53,44],41,[38,33]],
[[93,84],56,[52,44],42,[38,35],33],
[[93,85],58,[52,46],41,[37,35]],
[[93,86],82,55,[53,45],40,[37,35],33],
[[93,86],83,[60,58],54,[51,46],[37,34]],
[[93,86],83,58,[55,53],[52,46],[38,35]],
[[93,87],83,58,54,[53,46],43,[38,34]],
[[93,86],84,58,[52,46],[38,35]],
[[92,85],83,58,[51,46],44,[38,33]],
[[93,86],58,[54,48],[38,35]],
[[92,85],83,[57,55],[54,46],[38,35],33],
[[93,86],[84,83],57,[52,46],43,[40,35]],
[[93,85],[54,46],45,[42,33]],
[[93,85],84,57,[55,49],[40,36]],
[[93,83],58,[55,48],[45,43],[40,36]]
];
const colsD = [
[[97,88],[85,84],[81,80],[77,75],[72,71],[68,67],[64,63],[60,59],[56,55],[52,51],[47,45],[42,41],[38,37],[35,34],[31,30],[26,25],[22,21],[18,17],[14,12],10],
[[97,92],[90,89],[86,84],[80,79],[76,75],[72,71],[68,67],[64,63],[60,59],[56,54],[51,50],[47,46],[43,42],[39,38],[34,32],[29,28],[25,24],[21,20],[17,16],[12,10]],
[[97,90],[87,86],[83,82],[79,78],[75,74],[71,70],[67,65],[62,61],[58,57],[54,53],[50,49],[45,44],[41,40],[37,36],[33,31],[28,27],[24,23],[20,19],[16,15],11],
[[97,94],[91,89],[86,85],[82,81],[78,77],[74,73],[70,69],[66,65],[62,60],[57,56],[53,52],[49,48],[45,44],[41,39],[36,35],[32,31],[28,27],[24,23],[20,19],15,[12,10]],
[[97,91],[88,87],[84,83],[80,79],[76,74],[71,70],[67,66],[63,62],[59,58],[55,54],[51,50],[47,45],[42,41],[38,37],[35,34],[31,30],[26,25],[22,21],[18,17],[14,13],10],
[[97,93],[90,89],[86,85],[82,81],[78,77],[74,73],[70,68],[65,64],[61,60],[58,57],[54,53],[50,49],[46,45],[42,41],[38,36],[33,32],[29,28],[25,24],[21,20],[17,16],13],
[[97,90],[87,85],[82,81],[78,77],[74,73],[70,69],[66,65],[62,61],[58,56],[53,52],[49,48],[46,45],[42,41],[38,36],[33,32],[29,28],[26,25],[22,21],[18,16],13,10],
[[97,94],[91,90],[87,86],[83,82],[79,77],[74,73],[70,69],[67,66],[63,62],[59,57],[54,53],[50,49],[47,46],[43,42],[39,37],[34,33],[30,29],[27,26],[23,22],[19,17],14,11],
[[97,91],[88,87],[84,83],[80,79],[77,75],[72,71],[68,67],[64,63],[60,59],[57,55],[52,51],[48,47],[44,43],[40,39],[37,35],[32,31],[28,27],[24,23],[20,19],[17,16],13],
[[97,92],[89,88],[85,84],[81,80],[77,76],[73,72],[70,68],[65,64],[61,60],[57,56],[53,52],[50,48],[45,44],[41,40],[37,36],[33,32],[30,28],[25,24],[21,20],18,14,11],
[[97,89],[86,85],[82,81],[78,77],[74,72],[69,68],[65,64],[62,61],[58,57],[54,52],[49,48],[45,44],[42,41],[38,37],[34,32],[29,28],[25,24],[22,21],18,[14,12],10],
[[97,93],[90,89],[86,85],[82,81],[79,77],[74,73],[71,70],[67,66],[63,62],[59,58],[55,54],[52,50],[47,46],[43,42],[40,39],[36,35],[32,30],[27,26],[23,22],[20,19],16,12],
[[97,90],[87,86],[83,82],[79,78],[75,74],[71,70],[68,66],[63,62],[60,59],[56,55],[52,51],[49,47],[44,43],[40,39],[36,35],[32,31],[29,27],[24,23],[20,19],17,13,10],
[[97,94],[92,91],[88,87],[84,83],[80,78],[75,74],[71,70],[68,67],[64,63],[61,59],[56,55],[52,51],[49,48],[45,44],[42,40],[37,36],[33,32],[30,29],[26,25],[22,20],17,14],
[[97,91],[88,86],[83,82],[79,78],[76,75],[72,71],[68,66],[63,62],[59,58],[56,55],[52,51],[48,46],[43,42],[39,38],[36,35],[32,31],[29,27],[24,23],[20,19],[17,16],12],
[[97,92],[90,89],[86,85],[82,81],[78,76],[73,72],[69,68],[66,65],[62,61],[58,56],[53,52],[49,48],[46,45],[42,41],[38,36],[33,32],[29,28],[26,25],[22,21],[19,17],14,10],
[[97,89],[86,85],[82,81],[78,77],[75,73],[70,69],[67,66],[63,62],[59,58],[56,54],[51,50],[47,46],[43,42],[39,38],[36,34],[31,30],[28,27],[24,23],[20,19],[17,16],13],
[[97,93],[90,88],[85,84],[82,81],[78,77],[74,73],[71,69],[66,65],[62,61],[58,57],[54,53],[51,49],[46,45],[43,42],[39,38],[35,34],[32,30],[27,26],[24,23],[20,19],16,13],
[[97,90],[87,86],[83,82],[79,78],[76,74],[71,70],[67,66],[64,63],[60,59],[56,54],[51,50],[47,46],[44,43],[40,39],[37,35],[32,31],[28,27],[25,24],[21,20],[17,15],12],
[[97,94],[91,90],[87,86],[83,82],[80,78],[75,74],[72,71],[68,67],[64,63],[61,59],[56,55],[53,52],[49,48],[45,44],[42,40],[37,36],[34,33],[30,29],[26,25],[23,22],19,15,11],
[[97,91],[88,85],[82,81],[77,76],[71,70],[67,64],[60,59],[55,54],[51,50],[47,45],[41,40],[37,36],[33,30],[26,25],[22,21],[18,17],[14,11]],
[[97,92],[90,89],[85,83],[79,78],[75,74],[71,70],[66,62],[58,57],[54,53],[50,49],[45,44],[41,38],[34,33],[30,29],[26,25],[22,21],[18,17],[14,13]],
[[96,89],[86,85],[82,81],[77,76],[73,70],[66,65],[63,62],[59,58],[54,51],[48,47],[44,43],[40,39],[36,35],[31,28],[24,23],[21,20],[17,16],13],
[[97,93],[90,88],[85,84],[81,80],[76,75],[72,69],[65,64],[61,60],[57,56],[53,52],[49,46],[43,42],[39,38],[34,33],30,[27,24],[21,20],[17,16],13],
[[96,90],[87,86],[84,82],[78,77],[74,73],[69,68],[65,62],[59,58],[55,54],[51,50],[46,45],[42,40],[37,36],[33,32],[29,28],[25,22],[19,18],14,12],
[[97,93],[90,89],[86,85],[82,81],[78,75],[72,71],[68,67],[64,63],[59,57],[54,53],[49,48],[45,44],[41,40],[37,34],[31,30],[27,26],[23,22],[19,17],14,10],
[[97,90],[87,85],[81,80],[77,76],[73,72],[69,66],[62,61],[58,57],[55,54],[51,50],[46,44],[41,40],[37,36],[33,32],[29,28],[25,22],[19,18],[16,15],13],
[[96,92],[89,88],[85,84],[80,79],[76,73],[69,68],[66,65],[61,60],[57,56],[54,51],[47,46],[44,43],[39,38],[35,33],[29,28],[26,25],[22,21],18,[15,13],10],
[[97,88],[85,83],[80,79],[76,75],[72,71],[67,64],[61,60],[57,56],[53,52],[49,48],[45,42],[39,38],[35,34],[31,30],[27,24],[21,20],17,[15,14]],
[[96,91],[88,87],[84,83],[80,79],[76,73],[70,69],[66,65],[62,61],[57,55],[52,51],[48,47],[44,43],[40,39],[35,32],[29,28],[25,24],[21,20],[17,15],10],
[[97,86],[84,81],[78,77],[74,73],[70,69],[66,63],[60,59],[56,55],[52,51],[48,47],[44,42],[39,38],[35,34],[31,30],[27,24],[21,20],17],
[[96,89],[87,84],[81,80],[77,76],[73,72],[69,66],[63,62],[59,58],[55,54],[51,50],[46,44],[41,40],[37,36],[33,32],[29,28],[25,23],[20,19],[16,13]],
[[97,85],[83,80],[77,76],[73,72],[69,68],[65,62],[59,58],[55,54],[51,50],[47,46],[43,41],[38,37],[34,33],[30,29],[26,23],[20,19],16],
[[96,88],[86,82],[79,78],[76,74],[71,70],[67,64],[61,60],[57,56],[53,52],[49,48],[46,44],[41,40],[37,36],[33,32],[29,28],[25,22],[19,18],[15,14]],
[[97,83],[81,78],[75,74],[71,70],[67,64],[61,60],[57,56],[54,53],[50,49],[46,44],[41,40],[37,36],[33,32],[29,28],[25,22],[19,18],[16,14]],
[[96,87],[85,81],[78,77],[75,73],[70,69],[66,65],[62,60],[57,56],[53,52],[49,48],[44,42],[39,38],[35,34],[31,30],[27,26],[23,21],[18,17],[14,12]],
[[97,82],[80,77],[74,73],[70,69],[66,63],[60,59],[56,55],[52,51],[48,47],[44,42],[39,38],[35,34],[31,30],[27,25],[22,21],[18,17],[15,13]],
[[96,86],[84,80],[77,76],[73,72],[69,68],[65,62],[59,58],[55,54],[51,50],[47,46],[43,41],[38,37],[34,33],[30,29],[26,23],[20,19],16],
[[97,81],[79,76],[73,72],[70,68],[65,64],[61,59],[56,55],[52,51],[49,48],[45,44],[40,38],[35,34],[32,31],[28,27],[24,21],[18,17]],
[[96,84],[82,78],[75,74],[71,70],[67,64],[61,60],[57,56],[53,52],[49,48],[45,43],[40,39],[36,35],[32,31],[28,25],[22,21],[18,17],14],
[[97,80],[78,75],[72,71],[68,66],[63,62],[59,58],[55,54],[51,50],[48,46],[43,42],[39,38],[35,34],[31,30],[27,25],[22,21],[19,17]],
[[96,83],[81,77],[74,72],[69,68],[65,62],[59,58],[56,55],[52,51],[48,47],[44,42],[39,38],[35,34],[31,30],[27,26],[23,21],18,16],
[[97,79],[77,74],[71,70],[67,66],[63,60],[57,56],[53,52],[49,48],[45,44],[42,40],[37,36],[33,32],[29,28],[25,23],20,[17,14]],
[[96,82],[80,76],[73,72],[70,68],[65,64],[61,59],[56,55],[52,51],[48,47],[44,43],[40,38],[35,34],[31,30],[27,26],[23,21],18,15],
[[96,80],[78,74],[71,70],[67,66],[63,62],[60,58],[55,54],[51,50],[47,46],[43,41],[38,37],[34,33],[30,29],[26,25],[22,21],18,14],
[[95,81],[79,76],[73,72],[69,67],[64,63],[61,60],[57,56],[53,52],[49,47],[44,43],[40,39],[36,35],[32,31],[29,27],24,[20,19],17,15],
[[96,82],[79,76],[72,70],66,[62,58],[55,50],[47,41],[38,33],[30,26],22,17,14],
[[96,80],[78,75],[72,70],68,[64,61],[54,50],[47,43],40,[37,32],[29,25],20,17,15],
[97,[95,80],73,71,67,65,[62,58],[54,48],[46,37],[35,29],28,17],
[97,96,[94,83],[82,80],[78,75],[74,72],69,[65,63],62,[59,44],[42,29],26,17],
[[94,83],81,78,75,69,65,61,[58,45],[43,29]],
[[93,83],64,61,[56,54],[53,34]],
[[93,83],60,[58,56],[53,33]],
[[93,84],62,[58,56],[53,36]],
[[92,84],59,[57,55],[53,50],[48,35]],
[[92,83],[56,54],[52,49],[44,35]],
[[92,84],56,[52,49],[48,40],[38,35]],
[[92,85],54,[52,45],[44,35]],
[[91,83],53,[48,45],[43,35]],
[[92,89],[53,50],[49,46],[43,36]],
[[92,88],56,[53,42],41,[39,36]],
[[91,90],87,85,[52,48],[42,39]],
[[92,85],55,[53,45],[42,40]],
[[88,85],[44,41]],
[[92,85],[53,38]],
[[92,85],[53,38]],
[[92,86],[53,39]],
[91,49],
[[92,86],[52,40]],
[[91,86],[51,41]],
[93,[92,84],[54,53],[51,42],33],
[94,[91,84],[55,54],[51,44],36,33],
[[93,84],67,66,54,[53,44],35,33,30],
[93,[90,84],[55,48],[47,42],34,33],
[[93,87],85,[54,53],[51,42],[35,33]],
[[92,88],86,[52,42],[35,34]],
[93,89,85,54,[51,43],34],
[92,89,85,52,[50,44],35],
[92,89,85,51,[48,44],35],
[92,[88,86],85,[52,51],[48,44],35],
[92,89,85,52,[48,45],35],
[92,[89,88],86,51,[49,46],35],
[92,[89,87],85,[51,50],[49,47],35],
[92,[89,88],86,51,[49,47],35],
[92,89,86,51,[50,47],35],
[92,[89,88],[86,85],53,[51,47],36],
[[93,92],[90,88],85,56,[52,46],40,[37,33]],
[[93,91],[90,88],85,[55,48],46,41,39,[37,33]],
[[93,91],[90,88],84,57,[54,48],42,40,[37,35],33],
[[92,91],[89,88],85,54,[53,47],45,[37,35]],
[[93,91],[90,87],85,83,54,[52,47],43,[37,33]],
[[92,91],[89,88],85,55,[54,47],33],
[[93,91],[89,87],83,56,[54,48],[36,33]],
[[93,91],[90,87],85,58,56,[54,48],41,[39,34]],
[[92,91],[89,87],85,56,[54,47],45,[38,33]],
[[93,91],[90,87],85,81,[59,58],[56,46],45,[40,34]],
[[93,91],[90,87],84,58,[56,48],46,[37,33]],
[[92,91],[89,87],84,58,[55,47],[39,34]],
[[93,91],[90,87],85,56,[55,49],41,[37,34]],
[[92,91],[89,83],[57,56],[55,49],46,[38,37]]
];

// ---- layout (positions / styles only) ----
const FONT = "'Liberation Sans', Arial, Helvetica, sans-serif";
const panels = [
  {cols:colsA, x0:458, y0:236, w:1200, h:829, color:"#ff0000",
   xFont:41, yFont:42, xLabBase:1118, tagPos:[477,1052], tauX:1135, noteX:1614, noteY:1016, yTitlePos:[339,661], xTitlePos:[1079,1185]},
  {cols:colsB, x0:1918, y0:236, w:1200, h:829, color:"#ff0000",
   xFont:41, yFont:42, xLabBase:1118, tagPos:[1938,1050], tauX:2576, noteX:3054, noteY:1032, yTitlePos:[1799,661], xTitlePos:[2520,1189]},
  {cols:colsC, x0:460, y0:1217, w:1198, h:828, color:"#008000",
   xFont:49, yFont:48, xLabBase:2108, tagPos:[487,2022], tauX:1237, noteX:1618, noteY:1982, yTitlePos:[315,1625], xTitlePos:[1073,2198]},
  {cols:colsD, x0:1918, y0:1217, w:1200, h:828, color:"#008000",
   xFont:42, yFont:42, xLabBase:2096, tagPos:[1939,2026], tauX:2699, noteX:3080, noteY:1990, yTitlePos:[1800,1625], xTitlePos:[2526,2191]}
];

const svg = d3.select("#chart");
svg.append("rect").attr("width",3411).attr("height",2367).attr("fill","#fff");

panels.forEach((p,i)=>{
  const x = d3.scaleLinear().domain([0,0.2]).range([p.x0, p.x0+p.w]);
  const y = d3.scaleLinear().domain([0,1]).range([p.y0+p.h, p.y0]);
  const g = svg.append("g").attr("class","panel"+i);

  const runs = [], dots = [];
  p.cols.forEach((col,k)=>{
    col.forEach(e=>{
      if (Array.isArray(e)) runs.push({e:eps[k], hi:e[0]/100, lo:e[1]/100});
      else dots.push({e:eps[k], v:e/100});
    });
  });

  const clipId = "clip"+i;
  svg.append("clipPath").attr("id",clipId).append("rect")
    .attr("x",p.x0).attr("y",p.y0).attr("width",p.w).attr("height",p.h);
  const pts = g.append("g").attr("clip-path","url(#"+clipId+")");

  pts.selectAll("line").data(runs).join("line")
    .attr("x1",d=>x(d.e)).attr("x2",d=>x(d.e))
    .attr("y1",d=>y(d.hi)).attr("y2",d=>y(d.lo))
    .attr("stroke",p.color).attr("stroke-width",10).attr("stroke-linecap","round");
  pts.selectAll("circle").data(dots).join("circle")
    .attr("cx",d=>x(d.e)).attr("cy",d=>y(d.v)).attr("r",5).attr("fill",p.color);

  // axes
  const xAxis = d3.axisBottom(x).tickValues(xTickValues).tickSize(-17).tickFormat(d3.format(".2f"));
  const gx = g.append("g").attr("transform",`translate(0,${p.y0+p.h})`).call(xAxis);
  gx.select(".domain").remove();
  gx.selectAll(".tick line").attr("stroke","#000").attr("stroke-width",3.5);
  gx.selectAll(".tick text").attr("y", p.xLabBase-(p.y0+p.h)).attr("dy",null)
    .attr("font-family",FONT).attr("font-weight","bold").attr("font-size",p.xFont).attr("fill","#000");

  const yAxis = d3.axisLeft(y).tickValues(yTickValues).tickSize(-17).tickFormat(d3.format(".1f"));
  const gy = g.append("g").attr("transform",`translate(${p.x0},0)`).call(yAxis);
  gy.select(".domain").remove();
  gy.selectAll(".tick line").attr("stroke","#000").attr("stroke-width",3.5);
  gy.selectAll(".tick text").attr("x",-18).attr("dy","0.36em")
    .attr("font-family",FONT).attr("font-weight","bold").attr("font-size",p.yFont).attr("fill","#000");

  g.append("rect").attr("x",p.x0).attr("y",p.y0).attr("width",p.w).attr("height",p.h)
    .attr("fill","none").attr("stroke","#000").attr("stroke-width",3.5);

  g.append("text").attr("x",p.tagPos[0]).attr("y",p.tagPos[1]).text(panelTags[i])
    .attr("font-family",FONT).attr("font-weight","bold").attr("font-size",64);

  const note = g.append("text").attr("y",p.noteY).attr("word-spacing",8)
    .attr("font-family",FONT).attr("font-weight","bold").attr("font-size",58);
  note.append("tspan").attr("x",p.tauX).attr("text-anchor","start").text(tauParts[i][0]);
  note.append("tspan").attr("x",p.noteX).attr("text-anchor","end").text(tauParts[i][1]);

  g.append("text").attr("transform",`translate(${p.yTitlePos[0]},${p.yTitlePos[1]}) rotate(-90)`)
    .attr("text-anchor","middle").text(yTitle)
    .attr("font-family",FONT).attr("font-weight","bold").attr("font-size",66);
  g.append("text").attr("x",p.xTitlePos[0]).attr("y",p.xTitlePos[1]).attr("text-anchor","middle").text(xTitle)
    .attr("font-family",FONT).attr("font-weight","bold").attr("font-size",66);
});
</script>
</body></html>
